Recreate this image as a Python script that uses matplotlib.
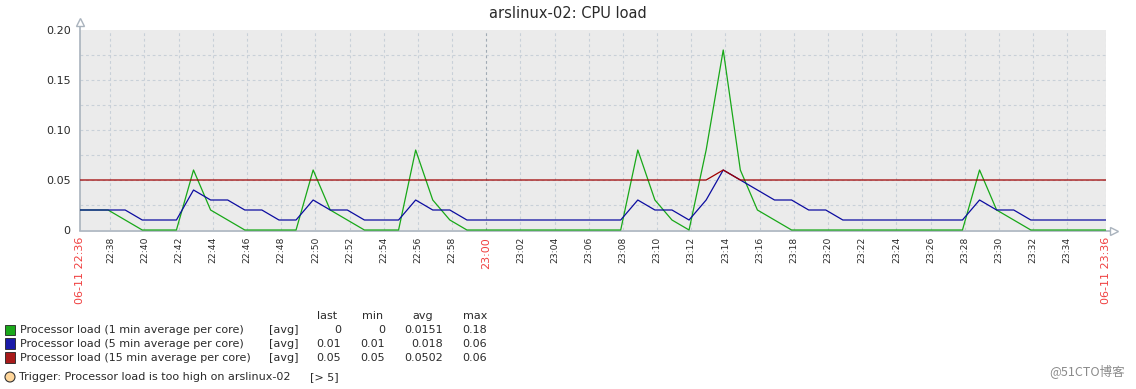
import numpy as np
import matplotlib.pyplot as plt
import matplotlib.transforms as mtransforms
from matplotlib.patches import Rectangle, Ellipse

W, H = 1136, 389

title = 'arslinux-02: CPU load'

# one sample a minute, minutes after 22:36 (first two before the left edge)
sample_min = np.arange(-2, 60) + 1.87

load_1 = [0.02, 0.02, 0.02, 0.01, 0, 0, 0, 0.06, 0.02, 0.01,
          0, 0, 0, 0, 0.06, 0.02, 0.01, 0, 0, 0,
          0.08, 0.03, 0.01, 0, 0, 0, 0, 0, 0, 0,
          0, 0, 0, 0.08, 0.03, 0.01, 0, 0.08, 0.18, 0.06,
          0.02, 0.01, 0, 0, 0, 0, 0, 0, 0, 0,
          0, 0, 0, 0.06, 0.02, 0.01, 0, 0, 0, 0,
          0, 0]
load_5 = [0.02, 0.02, 0.02, 0.02, 0.01, 0.01, 0.01, 0.04, 0.03, 0.03,
          0.02, 0.02, 0.01, 0.01, 0.03, 0.02, 0.02, 0.01, 0.01, 0.01,
          0.03, 0.02, 0.02, 0.01, 0.01, 0.01, 0.01, 0.01, 0.01, 0.01,
          0.01, 0.01, 0.01, 0.03, 0.02, 0.02, 0.01, 0.03, 0.06, 0.05,
          0.04, 0.03, 0.03, 0.02, 0.02, 0.01, 0.01, 0.01, 0.01, 0.01,
          0.01, 0.01, 0.01, 0.03, 0.02, 0.02, 0.01, 0.01, 0.01, 0.01,
          0.01, 0.01]
load_15 = [0.05] * 38 + [0.06] + [0.05] * 23

x_start, x_end = 0.2445, 60.27
tick_min = list(range(2, 60, 2))

names = ['Processor load (1 min average per core)',
         'Processor load (5 min average per core)',
         'Processor load (15 min average per core)']
colors = ['#1AA81A', '#1A1AA8', '#A81A1A']
line_colors = ['#18A818', '#0C0CA0', '#A00000']
stat_last = ['0', '0.01', '0.05']
stat_min = ['0', '0.01', '0.05']
stat_avg = ['0.0151', '0.018', '0.0502']
stat_max = ['0.18', '0.06', '0.06']
trigger = 'Trigger: Processor load is too high on arslinux-02'
trigger_val = '[> 5]'

txt = '#2a2a2a'
axis_col = '#A9B3BD'
grid_col = '#C8D0D8'

fig = plt.figure(figsize=(W / 100, H / 100), dpi=100)
ax = fig.add_axes([80.3 / W, 1 - 230 / H, (1106 - 80.3) / W, 200 / H])
ax.set_facecolor('#EBEBEB')
for s in ax.spines.values():
    s.set_visible(False)

ax.set_xlim(x_start, x_end)
ax.set_ylim(0, 0.2)

# grid
for y in np.arange(0.025, 0.19, 0.025):
    ax.axhline(y, color=grid_col, lw=0.8, ls=(0, (2.5, 2.5)), zorder=1)
for m in tick_min:
    if m == 24:
        ax.axvline(m, color='#A0AAB4', lw=0.8, ls=(0, (2.5, 2.5)), zorder=1)
    else:
        ax.axvline(m, color=grid_col, lw=0.8, ls=(0, (2.5, 2.5)), zorder=1)
ax.axvline(x_end, color=grid_col, lw=0.8, ls=(0, (2.5, 2.5)), zorder=1)

# data, clipped a little below zero so the zero level stays whole
clip = mtransforms.TransformedBbox(mtransforms.Bbox([[0, -0.02], [1, 1]]), ax.transAxes)
for vals, c in zip([load_1, load_5, load_15], line_colors):
    ln, = ax.plot(sample_min, vals, color=c, lw=0.9, zorder=5)
    ln.set_clip_box(clip)

# axes with arrows (bottom one sits a pixel under the zero level)
down = ax.transAxes + mtransforms.ScaledTranslation(0, -1.3 / 100, fig.dpi_scale_trans)
left = ax.transAxes + mtransforms.ScaledTranslation(-0.8 / 100, 0, fig.dpi_scale_trans)
ax.plot([0, 0], [0, 1.035], transform=left, color=axis_col, lw=1.2,
        clip_on=False, zorder=4)
ax.plot([0, 1.006], [0, 0], transform=down, color=axis_col, lw=1.2,
        clip_on=False, zorder=4)
ax.plot([0], [1.04], transform=left, marker='^', ms=6, mfc='white',
        mec=axis_col, mew=1, clip_on=False, zorder=5)
ax.plot([1.008], [0], transform=down, marker='>', ms=6, mfc='white',
        mec=axis_col, mew=1, clip_on=False, zorder=5)

# y ticks
ax.set_yticks([0, 0.05, 0.10, 0.15, 0.20])
ax.set_yticklabels(['0', '0.05', '0.10', '0.15', '0.20'], fontsize=8, color=txt)
ax.tick_params(axis='y', length=0, pad=7)

# x ticks
xt = [x_start] + tick_min + [x_end]
xl = ['06-11 22:36']
for m in tick_min:
    tot = 22 * 60 + 36 + m
    xl.append('%02d:%02d' % (tot // 60, tot % 60))
xl.append('06-11 23:36')
ax.set_xticks(xt)
ax.set_xticklabels(xl, rotation=90, va='top', ha='center')
ax.tick_params(axis='x', length=0, pad=5)
for lab, pos in zip(ax.get_xticklabels(), xt):
    if pos in (x_start, x_end, 24):
        lab.set_color('#F04040')
        lab.set_fontsize(8)
    else:
        lab.set_color(txt)
        lab.set_fontsize(6.6)

fig.text(0.5, 1 - 13 / H, title, ha='center', va='center', fontsize=10.5, color=txt)


def fx(px):
    return px / W


def fy(py):
    return 1 - py / H


# legend table
lf = 8
for label, right in zip(['last', 'min', 'avg', 'max'], [337, 383, 433, 487]):
    fig.text(fx(right), fy(315.7), label, ha='right', va='center', fontsize=lf, color=txt)
rows_y = [330, 343.7, 357.7]
for i in range(3):
    y = rows_y[i]
    fig.add_artist(Rectangle((fx(5), fy(y + 5)), 10.5 / W, 10.5 / H,
                             transform=fig.transFigure, facecolor=colors[i],
                             edgecolor='#222222', lw=0.6))
    fig.text(fx(20), fy(y), names[i], ha='left', va='center', fontsize=lf, color=txt)
    fig.text(fx(268.7), fy(y), '[avg]', ha='left', va='center', fontsize=lf, color=txt)
    fig.text(fx(341), fy(y), stat_last[i], ha='right', va='center', fontsize=lf, color=txt)
    fig.text(fx(385), fy(y), stat_min[i], ha='right', va='center', fontsize=lf, color=txt)
    fig.text(fx(443), fy(y), stat_avg[i], ha='right', va='center', fontsize=lf, color=txt)
    fig.text(fx(487), fy(y), stat_max[i], ha='right', va='center', fontsize=lf, color=txt)

fig.add_artist(Ellipse((fx(10), fy(377)), 10 / W, 10 / H, transform=fig.transFigure,
                       facecolor='#FFD69A', edgecolor='#333333', lw=0.8))
fig.text(fx(19), fy(377), trigger, ha='left', va='center', fontsize=lf, color=txt)
fig.text(fx(310), fy(377), trigger_val, ha='left', va='center', fontsize=lf, color=txt)

fig.text(fx(1125), fy(371), '@51CTO博客', ha='right', va='center', fontsize=9,
         color='#8a8a8a', family=['Noto Sans CJK SC', 'DejaVu Sans'])

fig.savefig('out.png', dpi=100)
